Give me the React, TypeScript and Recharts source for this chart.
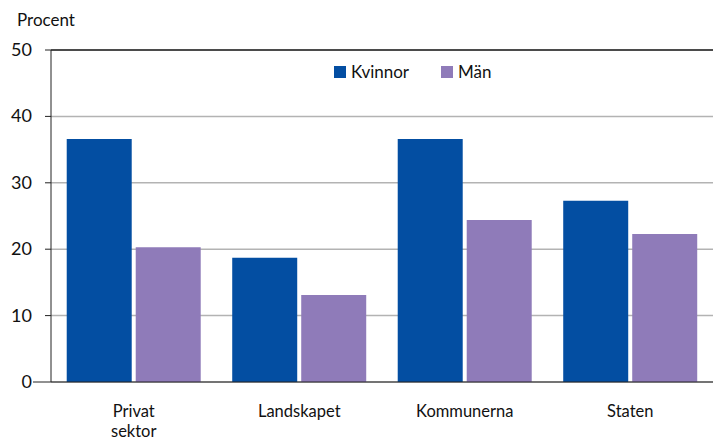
import React from 'react';
import { BarChart, Bar, XAxis, YAxis, CartesianGrid, ReferenceLine } from 'recharts';

document.body.style.margin = '0';

const categories = ['Privat sektor', 'Landskapet', 'Kommunerna', 'Staten'];
const kvinnor = [36.6, 18.7, 36.6, 27.3];
const man = [20.3, 13.1, 24.4, 22.3];
const yTicks = [0, 10, 20, 30, 40, 50];

const data = categories.map((name, i) => ({ name, Kvinnor: kvinnor[i], Män: man[i] }));

const FONT = 'Lato, "Open Sans", sans-serif';
const BLUE = '#034ea2';
const PURPLE = '#8f7bb9';

const YTick = (props: any) => {
  const { x, y, payload } = props;
  const left = payload.value === 0 ? 33 : 45;
  return (
    <g>
      <line x1={left} x2={51} y1={y} y2={y} stroke="#222" strokeWidth={1} />
      <text x={x} y={y} dy={6} textAnchor="end" fontSize={18} fill="#111" fontFamily={FONT}>
        {payload.value}
      </text>
    </g>
  );
};

const XTick = (props: any) => {
  const { x, y, payload } = props;
  const words = String(payload.value).split(' ');
  return (
    <text x={x} y={y} textAnchor="middle" fontSize={16.5} fill="#111" fontFamily={FONT}>
      {words.map((w, i) => (
        <tspan key={i} x={x} dy={i === 0 ? 27 : 20}>{w}</tspan>
      ))}
    </text>
  );
};

export default function App() {
  return (
    <div style={{ position: 'relative', width: 713, height: 442, background: '#fff' }}>
      <div style={{ position: 'absolute', left: 17, top: 9, fontFamily: FONT, fontSize: 17, color: '#111' }}>
        Procent
      </div>
      <div style={{ position: 'absolute', left: 334, top: 61, display: 'flex', fontFamily: FONT, fontSize: 17, color: '#111', zIndex: 2 }}>
        {[['Kvinnor', BLUE], ['Män', PURPLE]].map(([label, color], i) => (
          <div key={label} style={{ display: 'flex', alignItems: 'center', marginLeft: i === 0 ? 0 : 32 }}>
            <span style={{ width: 12, height: 12, background: color, display: 'inline-block', marginRight: 5 }} />
            {label}
          </div>
        ))}
      </div>
      <BarChart
        width={713}
        height={442}
        data={data}
        margin={{ top: 50, right: 0, bottom: 0, left: 0 }}
        barCategoryGap="9.5%"
        barGap={4}
      >
        <CartesianGrid vertical={false} stroke="#b3b3b3" strokeWidth={1.5} />
        <ReferenceLine y={50} stroke="#222" strokeWidth={1.5} />
        <XAxis
          dataKey="name"
          height={60}
          axisLine={{ stroke: '#222' }}
          tickLine={false}
          tick={<XTick />}
          interval={0}
        />
        <YAxis
          width={51}
          domain={[0, 50]}
          ticks={yTicks}
          axisLine={{ stroke: '#222' }}
          tickLine={false}
          tickMargin={13}
          tick={<YTick />}
        />
        <Bar dataKey="Kvinnor" fill={BLUE} isAnimationActive={false} />
        <Bar dataKey="Män" fill={PURPLE} isAnimationActive={false} />
      </BarChart>
    </div>
  );
}
